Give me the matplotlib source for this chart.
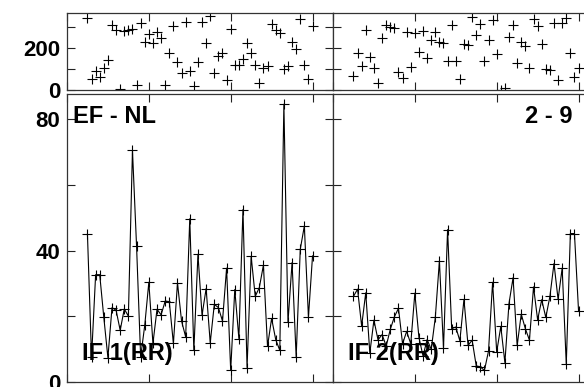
import numpy as np
import matplotlib
matplotlib.use('Agg')
import matplotlib.pyplot as plt

plt.rcParams['font.family'] = ['Liberation Sans', 'DejaVu Sans']
plt.rcParams['font.weight'] = 'bold'

# ---------------------------
# Data
# ---------------------------
x = np.arange(5, 61)

# upper strip, scatter of + marks
top_left = [344, 53, 93, 61, 104, 144, 312, 285, 3, 283,
            288, 291, 24, 323, 232, 267, 224, 277, 248, 22,
            179, 307, 133, 80, 325, 93, 19, 136, 325, 227,
            352, 83, 163, 176, 48, 291, 120, 120, 147, 227,
            176, 120, 35, 107, 115, 315, 288, 272, 99, 117,
            232, 195, 339, 120, 51, 307]
top_right = [69, 179, 117, 285, 157, 104, 35, 248, 312, 301,
             296, 88, 56, 280, 112, 272, 184, 283, 152, 240,
             277, 232, 224, 139, 312, 139, 53, 219, 216, 349,
             264, 315, 139, 240, 336, 173, 2, 8, 256, 309,
             131, 229, 211, 104, 339, 307, 221, 101, 96, 320,
             48, 320, 344, 179, 61, 107]

# lower panels, line + marks
rr1 = [45, 7.6, 32.7, 32.7, 19.7, 7.5, 22.7, 21.9, 15.8, 22.3,
       20.1, 70.5, 41.4, 7.7, 17.3, 30.4, 11.8, 22.2, 20.5, 24.7,
       24.5, 11.8, 30.2, 18.6, 13.8, 49.7, 9.7, 38.9, 20.4, 28.5,
       12, 23.7, 22.7, 18.6, 34.7, 3.6, 28.2, 13.3, 52.5, 4.5,
       38.3, 26.1, 28.8, 35.6, 10.9, 19.4, 13, 9.7, 84.5, 18.3,
       36.4, 7.7, 40.4, 47.5, 19.8, 38.4]
rr2 = [26.1, 28.3, 17.1, 27.2, 8.9, 18.9, 12.9, 14.5, 11, 16.1,
       19.9, 22.5, 11.7, 15.5, 11.7, 27.1, 13.6, 8, 13, 10,
       19.7, 36.9, 10.4, 46.4, 16.3, 16.8, 12.6, 25.2, 11.2, 12.8,
       5, 4.7, 3.6, 9.5, 30.4, 9.2, 17, 6, 23.9, 31.8,
       11.2, 20.7, 16.3, 12.8, 29, 19, 25.1, 19.7, 26.1, 36.1,
       25.2, 34.7, 5.5, 45.2, 45.2, 21.7]

top_ticks = [0, 100, 200, 300]
top_labels = ['0', '', '200', '']
bot_ticks = [0, 20, 40, 60, 80]
bot_labels = ['0', '', '40', '', '80']

# ---------------------------
# Layout (gnuplot-like multiplot)
# ---------------------------
fig = plt.figure(figsize=(5.84, 3.87), dpi=100)

left_x, right_x, w = 0.1147, 0.5702, 0.4555
top_pos = (0.7674, 0.1997)
bot_pos = (0.0121, 0.745)

axes = {
    'tl': fig.add_axes([left_x, top_pos[0], w, top_pos[1]]),
    'tr': fig.add_axes([right_x, top_pos[0], w, top_pos[1]]),
    'bl': fig.add_axes([left_x, bot_pos[0], w, bot_pos[1]]),
    'br': fig.add_axes([right_x, bot_pos[0], w, bot_pos[1]]),
}

mk = dict(color='black', marker='+', ms=7, mew=0.8)

axes['tl'].plot(x, top_left, ls='none', **mk)
axes['tr'].plot(x, top_right, ls='none', **mk)
axes['bl'].plot(x, rr1, lw=0.8, **mk)
axes['br'].plot(x, rr2, lw=0.8, **mk)

for key, ax in axes.items():
    ax.set_xlim(0, 65)
    ax.set_xticks([0, 20, 40, 60])
    ax.set_xticklabels([])
    ax.tick_params(direction='in', top=True, right=True, length=5.5,
                   width=0.8, labelsize=16, pad=5, color='#222222')
    for sp in ax.spines.values():
        sp.set_linewidth(0.9)
        sp.set_color('#333333')
    if key[0] == 't':
        ax.set_ylim(0, 370)
        ax.set_yticks(top_ticks)
        ax.set_yticklabels(top_labels)
    else:
        ax.set_ylim(0, 87.6)
        ax.set_yticks(bot_ticks)
        ax.set_yticklabels(bot_labels)
    if key[1] == 'r':
        ax.tick_params(labelleft=False)

txt = dict(fontsize=17, fontweight='bold', color='black', zorder=5)
axes['bl'].text(0.023, 0.90, 'EF - NL', transform=axes['bl'].transAxes,
                ha='left', va='baseline', **txt)
axes['br'].text(0.902, 0.90, '2 - 9', transform=axes['br'].transAxes,
                ha='right', va='baseline', **txt)
axes['bl'].text(0.056, 0.076, 'IF 1(RR)', transform=axes['bl'].transAxes,
                ha='left', va='baseline', **txt)
axes['br'].text(0.056, 0.076, 'IF 2(RR)', transform=axes['br'].transAxes,
                ha='left', va='baseline', **txt)

fig.savefig('out.png', dpi=100)
plt.close(fig)
